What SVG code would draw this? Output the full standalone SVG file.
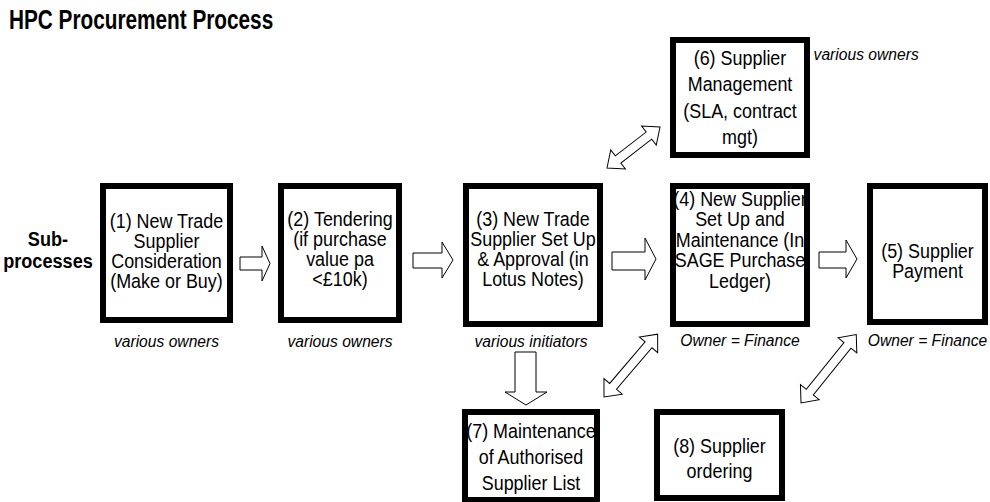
<svg xmlns="http://www.w3.org/2000/svg" width="990" height="502" viewBox="0 0 990 502">
<style>
text { font-family: "Liberation Sans", Arial, Helvetica, sans-serif; fill: #000; }
.box { fill: #fff; stroke: #000; stroke-width: 6; }
.t { font-size: 19.5px; text-anchor: middle; transform-box: fill-box; transform-origin: center; transform: scaleX(0.92); }
.own { font-size: 17px; font-style: italic; text-anchor: middle; transform-box: fill-box; transform-origin: center; transform: scaleX(0.92); }
.lbl { font-size: 19.5px; font-weight: bold; text-anchor: middle; transform-box: fill-box; transform-origin: center; transform: scaleX(0.93); }
.title { font-size: 27.5px; font-weight: bold; }
.arr { fill: #fff; stroke: #000; stroke-width: 1; stroke-linejoin: miter; }
</style>
<rect width="990" height="502" fill="#fff"/>
<text class="title" transform="translate(9,29) scale(0.755,1)">HPC Procurement Process</text>
<g id="label-subprocesses">
<text class="lbl" x="48" y="246">Sub-</text>
<text class="lbl" x="48" y="268">processes</text>
</g>
<g id="connectors">
<polygon class="arr" points="240,257 262,257 262,246 270,263.5 262,281 262,270 240,270"/>
<polygon class="arr" points="413,253 442,253 442,242 453,260 442,278 442,268 413,268"/>
<polygon class="arr" points="612,252 645,252 645,238 656,259 645,280 645,270 612,270"/>
<polygon class="arr" points="819,252 846,252 846,240 857,259 846,278 846,268 819,268"/>
<polygon class="arr" points="515,352 536,352 536,392 547,392 526,405 505,392 515,392"/>
<polygon class="arr" transform="translate(607,168) rotate(-37.7)" points="0,0 14,-12 14,-4.5 53,-4.5 53,-12 67,0 53,12 53,4.5 14,4.5 14,12"/>
<polygon class="arr" transform="translate(604,397) rotate(-49.5)" points="0,0 14,-12 14,-4.5 68.6,-4.5 68.6,-12 82.6,0 68.6,12 68.6,4.5 14,4.5 14,12"/>
<polygon class="arr" transform="translate(801,403) rotate(-51.1)" points="0,0 14,-12 14,-4.5 74,-4.5 74,-12 88,0 74,12 74,4.5 14,4.5 14,12"/>
</g>
<g id="node1">
<rect class="box" x="103" y="186" width="127" height="134"/>
<text class="t" x="166.5" y="228">(1) New Trade</text>
<text class="t" x="166.5" y="248">Supplier</text>
<text class="t" x="166.5" y="268">Consideration</text>
<text class="t" x="166.5" y="288">(Make or Buy)</text>
<text class="own" x="166.5" y="347">various owners</text>
</g>
<g id="node2">
<rect class="box" x="281" y="186" width="118" height="134"/>
<text class="t" x="340" y="226">(2) Tendering</text>
<text class="t" x="340" y="246">(if purchase</text>
<text class="t" x="340" y="266">value pa</text>
<text class="t" x="340" y="286">&lt;£10k)</text>
<text class="own" x="340" y="347">various owners</text>
</g>
<g id="node3">
<rect class="box" x="466" y="186" width="134" height="138"/>
<text class="t" x="533" y="226">(3) New Trade</text>
<text class="t" x="533" y="246">Supplier Set Up</text>
<text class="t" x="533" y="266">&amp; Approval (in</text>
<text class="t" x="533" y="286">Lotus Notes)</text>
<text class="own" x="531" y="347">various initiators</text>
</g>
<g id="node6">
<rect class="box" x="673" y="40" width="134" height="115"/>
<text class="t" x="740" y="65">(6) Supplier</text>
<text class="t" x="740" y="91">Management</text>
<text class="t" x="740" y="118">(SLA, contract</text>
<text class="t" x="740" y="144">mgt)</text>
<text class="own" x="809" y="60" style="text-anchor:start">various owners</text>
</g>
<g id="node4">
<rect class="box" x="673" y="186" width="134" height="138"/>
<text class="t" x="740" y="206">(4) New Supplier</text>
<text class="t" x="740" y="226">Set Up and</text>
<text class="t" x="740" y="247">Maintenance (In</text>
<text class="t" x="740" y="267">SAGE Purchase</text>
<text class="t" x="740" y="288">Ledger)</text>
<text class="own" x="740" y="346">Owner = Finance</text>
</g>
<g id="node5">
<rect class="box" x="870" y="186" width="115" height="136"/>
<text class="t" x="927.5" y="258">(5) Supplier</text>
<text class="t" x="927.5" y="278">Payment</text>
<text class="own" x="927.5" y="346">Owner = Finance</text>
</g>
<g id="node7">
<rect class="box" x="465" y="412" width="132" height="88"/>
<text class="t" x="531" y="438">(7) Maintenance</text>
<text class="t" x="531" y="464">of Authorised</text>
<text class="t" x="531" y="490">Supplier List</text>
</g>
<g id="node8">
<rect class="box" x="657" y="412" width="125" height="86"/>
<text class="t" x="719.5" y="453">(8) Supplier</text>
<text class="t" x="719.5" y="478">ordering</text>
</g>
</svg>
